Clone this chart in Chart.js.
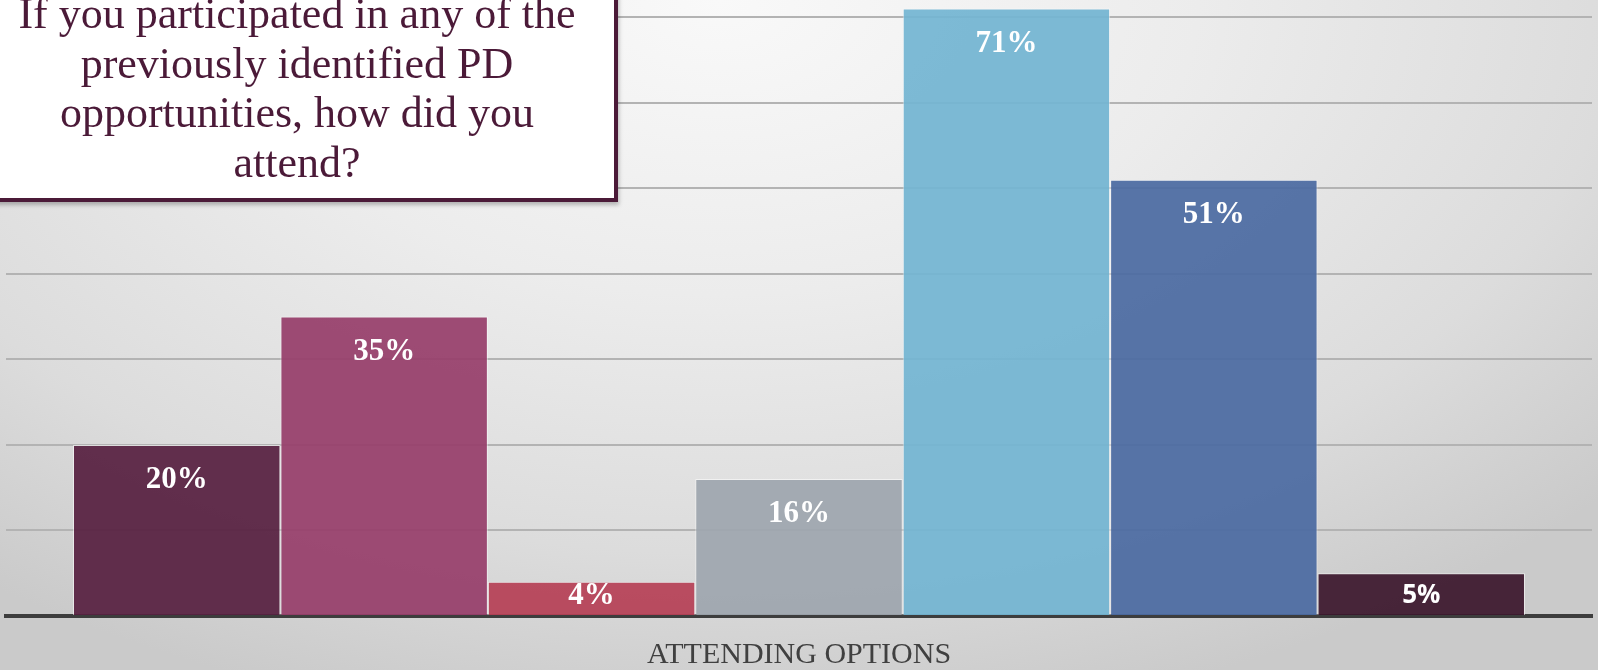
<!DOCTYPE html>
<html>
<head>
<meta charset="utf-8">
<script src="https://cdn.jsdelivr.net/npm/chart.js@4/dist/chart.umd.min.js"></script>
<style>
  html, body { margin: 0; padding: 0; }
  body {
    width: 1598px; height: 670px; overflow: hidden; position: relative;
    background: radial-gradient(ellipse 75% 110% at 45% 0%, #f9f9f9 0%, #ececec 40%, #dcdcdc 75%, #cacaca 100%);
  }
  #wrap { position: absolute; left: 0; top: 0; width: 1598px; height: 670px; }
  #titleBox {
    position: absolute; left: -24px; top: -40px; width: 642px; height: 242px;
    box-sizing: border-box; background: #ffffff;
    border: 4px solid #4b1a38;
    box-shadow: 1px 3px 4px rgba(0,0,0,0.25);
  }
  #titleText {
    position: absolute; left: -23px; top: -11px; width: 640px;
    text-align: center; font-family: "Liberation Serif", serif; font-size: 44px;
    line-height: 49.5px; color: #4b1a38;
  }
</style>
</head>
<body>
<div id="wrap"><canvas id="chart" width="1598" height="670"></canvas></div>
<div id="titleBox"></div>
<div id="titleText">If you participated in any of the<br>previously identified PD<br>opportunities, how did you<br>attend?</div>
<script>
// One category, seven attendance options shown side by side
const categories = ['ATTENDING OPTIONS'];
const seriesValues = [20, 35, 4, 16, 71, 51, 5];
const seriesColors = [
  'rgba(87,32,65,0.93)',
  'rgba(151,62,107,0.93)',
  'rgba(182,65,86,0.93)',
  'rgba(158,166,174,0.93)',
  'rgba(115,181,210,0.93)',
  'rgba(75,107,161,0.93)',
  'rgba(60,24,45,0.93)'
];
const labelFonts = [
  'bold 31px "Liberation Serif"', 'bold 31px "Liberation Serif"', 'bold 31px "Liberation Serif"',
  'bold 31px "Liberation Serif"', 'bold 31px "Liberation Serif"', 'bold 31px "Liberation Serif"',
  'bold 26px "Open Sans"'
];

const datasets = seriesValues.map((v, i) => ({
  label: 'Option ' + (i + 1),
  data: [v],
  backgroundColor: seriesColors[i],
  borderColor: 'rgba(255,255,255,0.55)',
  borderWidth: 1,
  borderSkipped: 'bottom',
  categoryPercentage: 0.9155,
  barPercentage: 1.0
}));

// Percentage labels inside the top of each bar
const valueLabels = {
  id: 'valueLabels',
  afterDatasetsDraw(chart) {
    const ctx = chart.ctx;
    ctx.save();
    ctx.fillStyle = '#ffffff';
    ctx.textAlign = 'center';
    ctx.textBaseline = 'middle';
    chart.data.datasets.forEach((ds, i) => {
      const meta = chart.getDatasetMeta(i);
      meta.data.forEach((bar, j) => {
        const y = Math.min(bar.y + 35, bar.base - 19);
        ctx.font = labelFonts[i];
        ctx.fillText(ds.data[j] + '%', bar.x, y);
      });
    });
    ctx.restore();
  }
};

new Chart(document.getElementById('chart'), {
  type: 'bar',
  data: { labels: categories, datasets },
  options: {
    responsive: false,
    animation: false,
    layout: { padding: { left: 6, right: 6, top: 0, bottom: -24 } },
    plugins: { legend: { display: false }, tooltip: { enabled: false } },
    scales: {
      x: {
        grid: { display: false, drawTicks: false },
        border: { display: true, color: '#3d3d3d', width: 4 },
        ticks: {
          color: '#404040', padding: 21,
          font: { family: '"Liberation Serif"', size: 30 }
        }
      },
      y: {
        min: 0, max: 72,
        ticks: { display: false, stepSize: 10 },
        border: { display: false },
        grid: {
          drawTicks: false,
          lineWidth: 2,
          color: (c) => (c.tick && c.tick.value > 0 && c.tick.value % 10 === 0) ? '#b3b3b3' : 'rgba(0,0,0,0)'
        }
      }
    }
  },
  plugins: [valueLabels]
});
</script>
</body>
</html>
